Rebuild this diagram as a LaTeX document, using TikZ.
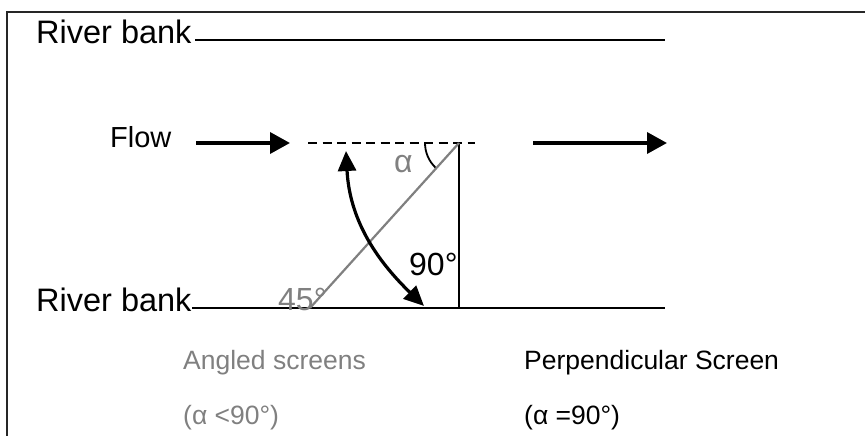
\documentclass[tikz,border=0pt]{standalone}
\usepackage{fontspec}
\setmainfont{Liberation Sans}
\usetikzlibrary{arrows.meta}
\definecolor{screengray}{RGB}{128,128,128}

\begin{document}
\begin{tikzpicture}[
  x=1pt, y=-1pt,
  bankline/.style={line width=2.8pt},
  flowarr/.style={-{Triangle[length=20pt,width=21pt]}, line width=3.6pt},
  swing/.style={{Triangle[length=20pt,width=18pt]}-{Triangle[length=20pt,width=18pt]}, line width=3.2pt},
  lbl/.style={inner sep=0pt, anchor=base west},
  banklbl/.style={lbl, font=\fontsize{32.5}{32.5}\selectfont},
  anglbl/.style={lbl, font=\fontsize{32}{32}\selectfont},
  caption/.style={lbl, font=\fontsize{26.5}{26.5}\selectfont}
]
\useasboundingbox (0,0) rectangle (865,436);

% frame
\coordinate (frameTR) at (866,12);
\coordinate (frameTL) at (7,12);
\coordinate (frameBL) at (7,437);
\draw[line width=1.8pt, black!85] (frameTR) -- (frameTL) -- (frameBL);

% river banks
\node[banklbl] (topbank) at (36,44) {River bank};
\node[banklbl] (botbank) at (36,311) {River bank};
\coordinate (bankTL) at (195,40);
\coordinate (bankTR) at (665,40);
\coordinate (bankBL) at (192,308);
\coordinate (bankBR) at (665,308);
\draw[bankline] (bankTL) -- (bankTR);
\draw[bankline] (bankBL) -- (bankBR);

% flow
\node[lbl, font=\fontsize{29}{29}\selectfont] (flow) at (110,147) {Flow};
\coordinate (flowA) at (196,143);
\coordinate (flowB) at (290,143);
\coordinate (outA) at (533,143);
\coordinate (outB) at (667,143);
\draw[flowarr] (flowA) -- (flowB);
\draw[flowarr] (outA) -- (outB);
\coordinate (dashA) at (308,143);
\coordinate (pivot) at (459,143);
\coordinate (dashB) at (475,143);
\draw[line width=2.8pt, dash pattern=on 9pt off 5.5pt] (dashA) -- (dashB);

% screens
\coordinate (foot) at (459,308);
\coordinate (skew) at (310,308);
\draw[line width=2.3pt] (pivot) -- (foot);
\draw[line width=2.2pt, screengray] (pivot) -- (skew);
\draw[line width=1.8pt] (pivot) ++(180:34) arc[start angle=180, end angle=134, radius=34];

% swing of the screen
\coordinate (swingtop) at (346,151);
\coordinate (swingbot) at (424,306);
\draw[swing] (swingtop) to[out=-87, in=136] (swingbot);

% angle labels
\node[anglbl, text=screengray] (alpha) at (394,172) {α};
\node[anglbl] (right) at (409,275) {90°};
\node[anglbl, text=screengray] (half) at (278,310) {45°};

% captions
\node[caption, text=screengray] (angled) at (183,369) {Angled screens};
\node[caption, text=screengray] (angledval) at (183,424) {(α <90°)};
\node[caption] (perp) at (524,369) {Perpendicular Screen};
\node[caption] (perpval) at (524,424) {(α =90°)};
\end{tikzpicture}
\end{document}
